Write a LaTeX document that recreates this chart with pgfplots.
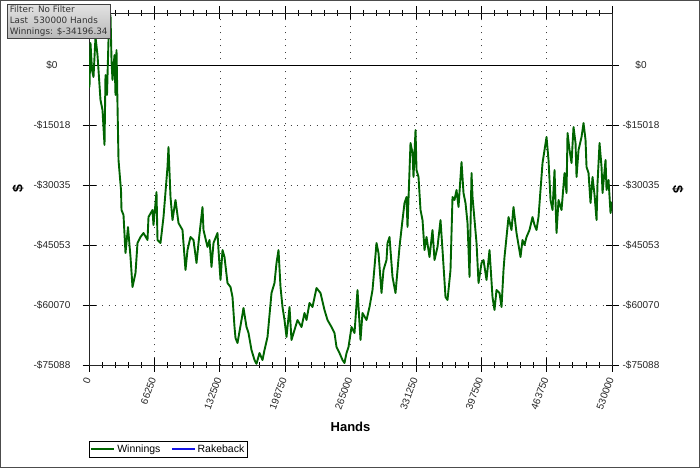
\documentclass[border=0pt]{standalone}
\usepackage{pgfplots}
\pgfplotsset{compat=1.18}
\usepackage{fontspec}
\setmainfont{Liberation Sans}
\newfontfamily\infofont{DejaVu Sans}
\definecolor{wingreen}{RGB}{0,100,0}
\definecolor{rbblue}{RGB}{20,20,230}
\begin{document}
\begin{tikzpicture}
\path[use as bounding box] (0,0) rectangle (700pt,468pt);
\fill[white] (0,0) rectangle (700pt,468pt);
\begin{axis}[
  at={(89pt,103pt)}, anchor=south west,
  scale only axis, width=523pt, height=352pt,
  xmin=0, xmax=530000, ymin=-75088, ymax=13016,
  xtick={0,66250,132500,198750,265000,331250,397500,463750,530000},
  xticklabels={0,66250,132500,198750,265000,331250,397500,463750,530000},
  ytick={-75088,-60070,-45053,-30035,-15018,0},
  yticklabels={-\$75088,-\$60070,-\$45053,-\$30035,-\$15018,\$0},
  scaled x ticks=false, scaled y ticks=false,
  minor x tick num=4, minor y tick num=4,
  tick align=center,
  major tick length=13pt, minor tick length=6pt,
  grid=major,
  major grid style={black!75, dash pattern=on 1pt off 5.5pt},
  every tick/.style={black, line width=0.7pt},
  axis line style={black!85, line width=0.8pt},
  tick label style={font=\fontsize{10}{12}\selectfont, text=black!85},
  yticklabel style={anchor=center, xshift=-30.5pt},
  xticklabel style={yshift=-3pt, rotate=70, anchor=east},
  xlabel={Hands},
  xlabel style={font=\fontsize{13}{15}\selectfont\bfseries, at={(0.5,-0.176)}, anchor=center},
  ylabel={\$},
  ylabel style={font=\fontsize{14}{16}\selectfont\bfseries, at={(-0.136,0.5)}, anchor=center},
  legend columns=2,
  legend style={at={(0,-0.2159)}, anchor=north west, fill=white,
    font=\fontsize{10.5}{12}\selectfont, inner sep=1.2pt, row sep=0pt,
    /tikz/every even column/.append style={column sep=9pt}},
]
\draw[black, line width=0.8pt] (axis cs:0,0) -- (axis cs:530000,0);
\addplot[draw=wingreen, line width=1.9pt, line join=round,
  legend image code/.code={\draw[wingreen, line width=1.9pt] (0pt,0pt) -- (23pt,0pt);}] coordinates {
(0,0) (500,-5510) (1500,5510) (3040,-1250) (4560,-3000) (6590,7010) (8610,2500)
(11650,-8760) (13680,-11260) (15710,-20020) (16720,-2500) (18240,-7510) (19760,6260)
(21790,12520) (22800,1250) (23810,-3750) (25840,2500) (26860,-7510) (27870,3750)
(28880,-10010) (29900,-23780) (32430,-31290) (32930,-36290) (34960,-37550)
(36990,-47060) (39520,-40550) (42060,-48060) (44080,-55570) (47120,-52060)
(49150,-44550) (52190,-43050) (55230,-42050) (59280,-43800) (60300,-38050)
(64350,-36290) (65360,-40050) (68400,-31790) (69420,-43800) (72460,-44550)
(75500,-38050) (79550,-25530) (80560,-20520) (82590,-33040) (84620,-38800)
(87660,-33790) (90700,-39550) (94750,-41300) (97790,-51310) (99820,-46310)
(102860,-43050) (105900,-43800) (108940,-49560) (110970,-44550) (115020,-35540)
(116030,-41300) (120090,-45550) (122110,-43800) (124140,-50560) (126170,-44550)
(130220,-42050) (131230,-46310) (133260,-53810) (135290,-46310) (137310,-48060)
(140350,-54570) (143390,-55570) (145420,-58070) (147450,-65580) (148460,-68330)
(150490,-69580) (154540,-63830) (156570,-60820) (159610,-65580) (161640,-67080)
(164680,-71340) (167720,-73840) (169740,-74800) (172780,-72090) (175820,-73840)
(177850,-71340) (180890,-68080) (184950,-57070) (187980,-54570) (190010,-49560)
(192040,-46310) (194070,-55570) (196090,-60570) (198120,-63830) (200150,-68080)
(203190,-60570) (205210,-68830) (208250,-66330) (211290,-63830) (215350,-65580)
(218380,-62070) (220420,-63830) (223450,-59570) (226490,-60570) (230540,-55820)
(234600,-57070) (238650,-61320) (241690,-63830) (245740,-65580) (248780,-67080)
(250810,-70580) (253850,-72090) (256900,-73840) (258920,-74590) (260960,-72090)
(262990,-70580) (266020,-65580) (269060,-67080) (272100,-56320) (275140,-68830)
(277160,-62070) (281210,-63830) (284260,-60570) (287300,-56320) (289330,-50560)
(291360,-44550) (293390,-47060) (296420,-57070) (298450,-51310) (301490,-48810)
(302500,-44550) (304530,-43050) (307570,-53060) (310610,-57070) (312640,-51310)
(314660,-45550) (317700,-38800) (319730,-34540) (321750,-33040) (322770,-40550)
(325810,-19520) (327840,-22030) (328850,-28030) (330880,-16270) (331890,-26280)
(333920,-28030) (335950,-36290) (337980,-38800) (340000,-46310) (342030,-43050)
(345060,-48060) (348100,-41300) (350130,-48810) (353170,-45550) (356210,-38800)
(358240,-46310) (361280,-58070) (363300,-58820) (366340,-51310) (368370,-33040)
(370400,-33790) (372430,-31290) (374460,-35540) (377500,-24280) (379520,-32040)
(381550,-34540) (383590,-39550) (385620,-53060) (387650,-27030) (388660,-33040)
(392710,-44550) (394740,-54570) (397780,-49560) (399810,-48810) (402830,-53810)
(405870,-46310) (408900,-58070) (410930,-61320) (412960,-56320) (416000,-57070)
(418030,-60570) (420060,-51310) (421070,-48060) (423110,-43050) (425130,-38050)
(428150,-41300) (430180,-35540) (433230,-42050) (437280,-48060) (439310,-43800)
(441330,-45050) (443360,-43050) (446400,-41300) (449440,-38050) (451470,-40050)
(453490,-41300) (455520,-38050) (457550,-31290) (459590,-24530) (461610,-21280)
(463640,-18020) (465670,-23780) (467700,-33790) (469730,-36290) (471750,-26280)
(473780,-42050) (475810,-33790) (478850,-36290) (481880,-27030) (483910,-32040)
(484930,-17020) (486950,-21280) (488980,-24530) (491010,-15520) (493040,-19520)
(494050,-28030) (496080,-21280) (499120,-18020) (501140,-14520) (503170,-18770)
(504180,-25530) (506210,-27030) (508240,-34540) (510270,-28030) (512300,-32540)
(514330,-38800) (515340,-29540) (517370,-19520) (519400,-25530) (520410,-32040)
(523440,-23780) (524460,-31290) (526480,-28780) (528510,-37050) (530000,-34196.34)
};
\addlegendentry{Winnings}
\addlegendimage{legend image code/.code={\draw[color=rbblue, line width=1.1pt] (0pt,0pt) -- (23pt,0pt);}}
\addlegendentry{\textcolor{black}{Rakeback}}
\end{axis}
\begin{axis}[
  at={(89pt,103pt)}, anchor=south west,
  scale only axis, width=523pt, height=352pt,
  xmin=0, xmax=530000, ymin=-75088, ymax=13016,
  hide x axis, axis y line*=right,
  axis line style={draw=none},
  ytick={-75088,-60070,-45053,-30035,-15018,0},
  yticklabels={-\$75088,-\$60070,-\$45053,-\$30035,-\$15018,\$0},
  scaled y ticks=false,
  major tick length=0pt, ytick style={draw=none},
  tick label style={font=\fontsize{10}{12}\selectfont, text=black!85},
  yticklabel style={anchor=center, xshift=29pt},
  ylabel={\$},
  ylabel style={font=\fontsize{14}{16}\selectfont\bfseries, at={(1.126,0.5)}, anchor=center, rotate=180},
]
\end{axis}
\node[draw=gray!50!black, top color=gray!22, bottom color=gray!55, anchor=north west,
  inner sep=1.5pt, align=left, font=\infofont\fontsize{8.8}{11}\selectfont, text=black!80,
  minimum width=103pt, minimum height=33pt] at (7pt,464pt)
  {Filter: No Filter\\Last\ \ 530000 Hands\\Winnings: \$-34196.34};
\draw[gray!60!black, line width=1pt] (0.5pt,0.5pt) rectangle (699.5pt,467.5pt);
\end{tikzpicture}
\end{document}
